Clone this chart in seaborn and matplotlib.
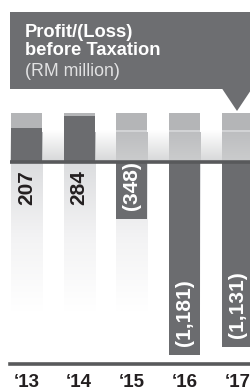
import numpy as np
import pandas as pd
import matplotlib
matplotlib.use("Agg")
import matplotlib.pyplot as plt
from matplotlib.patches import Rectangle, Polygon
from matplotlib.colors import LinearSegmentedColormap
from matplotlib.transforms import blended_transform_factory
import seaborn as sns

# ---- data ----
YEARS = ["\u201813", "\u201814", "\u201815", "\u201816", "\u201817"]
VALUES = [207, 284, -348, -1181, -1131]
VALUE_LABELS = ["207", "284", "(348)", "(1,181)", "(1,131)"]
TITLE_LINES = ["Profit/(Loss)", "before Taxation"]
SUBTITLE = "(RM million)"

sns.set_theme(style="white")
plt.rcParams["font.family"] = ["Liberation Sans", "DejaVu Sans"]

W, H = 251, 391
fig = plt.figure(figsize=(W / 100, H / 100), dpi=100)
fig.patch.set_facecolor("white")

# axes: from x=10px to right edge, from bottom axis line (y=364px) to top
ax = fig.add_axes([10 / W, (H - 364) / H, 1 - 10 / W, 364 / H])
ax.set_facecolor("none")

UPP = 6.13                    # data units per pixel
XL, XR = -0.313, 4.26
YB, YT = -202 * UPP, 162 * UPP
BAR_W = 0.59
GHOST_TOP = 49 * UPP
GHOST_SOLID = 32 * UPP
GHOST_GRAD = 30 * UPP
GHOST_BOTTOM = -150 * UPP

df = pd.DataFrame({"year": YEARS, "value": VALUES})

# background band gradient above zero line
band = np.linspace(0, 1, 100).reshape(-1, 1)
band_cmap = LinearSegmentedColormap.from_list("band", ["#d6d7d8", "#ffffff"])
ax.imshow(band, cmap=band_cmap, aspect="auto", origin="lower",
          extent=[XL, XR, 0, GHOST_GRAD + 2 * UPP], zorder=0)

xs = np.arange(len(YEARS))
# ghost bars above zero
ax.bar(xs, [GHOST_TOP] * len(xs), width=BAR_W, color="#d2d3d5", zorder=1, linewidth=0)
ax.bar(xs, [GHOST_TOP - GHOST_SOLID] * len(xs), bottom=GHOST_SOLID, width=BAR_W,
       color="#b4b5b7", zorder=1.1, linewidth=0)
gcmap = LinearSegmentedColormap.from_list("g", ["#cbcccd", "#bdbec0"])
for x in xs:
    ax.imshow(band, cmap=gcmap, aspect="auto", origin="lower",
              extent=[x - BAR_W / 2, x + BAR_W / 2, 0, GHOST_GRAD], zorder=1.2)
# ghost bars below zero (fading)
lcmap = LinearSegmentedColormap.from_list("l", ["#ffffff", "#f3f3f4", "#dcdddf"])
for x in xs:
    ax.imshow(band, cmap=lcmap, aspect="auto", origin="lower",
              extent=[x - BAR_W / 2, x + BAR_W / 2, GHOST_BOTTOM, 0], zorder=1.2)

# main bars
sns.barplot(data=df, x="year", y="value", color="#6b6c6f", saturation=1,
            width=BAR_W, ax=ax, zorder=2, linewidth=0)

ax.set_xlim(XL, XR)
ax.set_ylim(YB, YT)

# zero line
ax.axhline(0, color="#58595b", lw=2.6, zorder=3)

# value labels
for i, (v, lab) in enumerate(zip(VALUES, VALUE_LABELS)):
    if v >= 0:
        ax.text(i, -8 * UPP, lab, rotation=90, ha="center", va="top",
                fontsize=15, fontweight="bold", color="#231f20", zorder=4)
    else:
        ax.text(i, v + 9 * UPP, lab, rotation=90, ha="center", va="bottom",
                fontsize=15, fontweight="bold", color="white", zorder=4)

# axes styling
for s in ["top", "left", "right"]:
    ax.spines[s].set_visible(False)
ax.spines["bottom"].set_color("#58595b")
ax.spines["bottom"].set_linewidth(2.6)
ax.set_yticks([])
ax.set_xticks(xs)
ax.set_xticklabels([])
ax.tick_params(axis="x", length=0)
ax.set_xlabel("")
ax.set_ylabel("")

# year labels near the bottom edge
tr = blended_transform_factory(ax.transData, fig.transFigure)
for i, lab in enumerate(YEARS):
    ax.text(i, 4.2 / H, lab, transform=tr, ha="center", va="baseline",
            fontsize=13.5, fontweight="bold", color="#231f20", clip_on=False)

# title box with pointer
def fx(px):
    return px / W

def fy(py):
    return (H - py) / H

fig.add_artist(Rectangle((fx(10), fy(89)), 1 - fx(10), fy(12) - fy(89),
                         transform=fig.transFigure, facecolor="#6d6e71",
                         edgecolor="none", zorder=5))
fig.add_artist(Polygon([(fx(222), fy(88.5)), (fx(252), fy(88.5)), (fx(237), fy(111))],
                       closed=True, transform=fig.transFigure,
                       facecolor="#6d6e71", edgecolor="none", zorder=5))
fig.text(fx(25), fy(37), TITLE_LINES[0], fontsize=13.2, fontweight="bold",
         color="white", va="baseline", ha="left", zorder=6)
fig.text(fx(25), fy(55), TITLE_LINES[1], fontsize=13.2, fontweight="bold",
         color="white", va="baseline", ha="left", zorder=6)
fig.text(fx(25), fy(76), SUBTITLE, fontsize=12.8, color="#e2e2e3",
         va="baseline", ha="left", zorder=6)

fig.savefig("out.png", dpi=100)
